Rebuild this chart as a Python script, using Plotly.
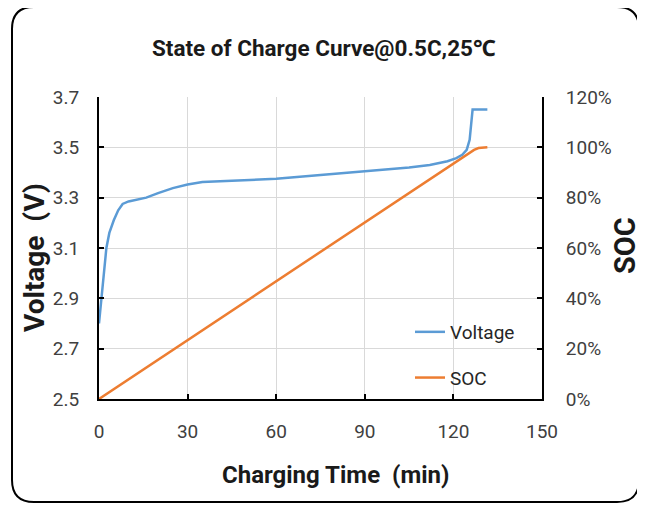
import plotly.graph_objects as go

# ---- data ----
time_v = [0, 0.5, 1, 1.5, 2.5, 3.5, 5, 6.5, 8, 10, 13, 16, 20, 25, 30, 35, 45,
          60, 75, 90, 105, 112, 118, 121, 123, 124.5, 125.5, 126, 126.5, 128, 131.5]
voltage = [2.80, 2.86, 2.92, 2.99, 3.10, 3.16, 3.21, 3.25, 3.275, 3.285, 3.293,
           3.30, 3.318, 3.338, 3.352, 3.362, 3.367, 3.375, 3.39, 3.405, 3.42,
           3.43, 3.445, 3.457, 3.47, 3.49, 3.53, 3.59, 3.65, 3.65, 3.65]

time_soc = [0, 30, 60, 90, 120, 125, 127, 128.5, 130, 131.5]
soc = [0, 0.234, 0.469, 0.703, 0.938, 0.977, 0.99, 0.997, 1.0, 1.0]

x_ticks = [0, 30, 60, 90, 120, 150]
v_ticks = [2.5, 2.7, 2.9, 3.1, 3.3, 3.5, 3.7]
soc_ticks = [0, 0.2, 0.4, 0.6, 0.8, 1.0, 1.2]

title_text = "State of Charge Curve@0.5C,25℃"
x_title = "Charging Time  (min)"
y_title = "Voltage  (V)"
y2_title = "SOC"

BLUE = "#5B9BD5"
ORANGE = "#ED7D31"
FONT = "Roboto, Noto Sans, sans-serif"
TICKC = "#404040"
DARK = "#1a1a1a"

W, H = 645, 507
OFF = 8                       # page body margin
L, R, T, B = 99, 542, 97, 399  # plot area in page pixels

fig = go.Figure()
fig.add_trace(go.Scatter(x=time_v, y=voltage, mode="lines", name="Voltage",
                         line=dict(color=BLUE, width=2.5), legendgroup="v"))
fig.add_trace(go.Scatter(x=time_soc, y=soc, mode="lines", name="SOC", yaxis="y2",
                         line=dict(color=ORANGE, width=2.5), legendgroup="s"))

def px(xp):
    return (xp - L) / (R - L)

def py(yp):
    return (B - yp) / (B - T)

# rounded border
x0, x1, y0, y1, rad = 12, 639, 7, 502, 22
path = (f"M {px(x0 + rad)} {py(y0)} L {px(x1 - rad)} {py(y0)} "
        f"Q {px(x1)} {py(y0)} {px(x1)} {py(y0 + rad)} "
        f"L {px(x1)} {py(y1 - rad)} Q {px(x1)} {py(y1)} {px(x1 - rad)} {py(y1)} "
        f"L {px(x0 + rad)} {py(y1)} Q {px(x0)} {py(y1)} {px(x0)} {py(y1 - rad)} "
        f"L {px(x0)} {py(y0 + rad)} Q {px(x0)} {py(y0)} {px(x0 + rad)} {py(y0)} Z")

fig.update_layout(
    width=W - OFF, height=H - OFF,
    margin=dict(l=L - OFF, r=W - R, t=T - OFF, b=H - B, pad=0),
    paper_bgcolor="white", plot_bgcolor="white",
    font=dict(family=FONT, color=TICKC, size=19),
    showlegend=True,
    shapes=[dict(type="path", path=path, xref="paper", yref="paper",
                 line=dict(color="black", width=2), layer="above")],
    annotations=[
        dict(text=f"<b>{title_text}</b>", x=px(324), y=py(48), xref="paper", yref="paper",
             showarrow=False, font=dict(family=FONT, size=22.5, color=DARK),
             xanchor="center", yanchor="middle"),
        dict(text=f"<b>{x_title}</b>", x=px(335), y=py(475), xref="paper", yref="paper",
             showarrow=False, font=dict(family=FONT, size=24, color=DARK),
             xanchor="center", yanchor="middle"),
        dict(text=f"<b>{y_title}</b>", x=px(35), y=py(258), xref="paper", yref="paper",
             showarrow=False, textangle=-90, font=dict(family=FONT, size=28, color=DARK),
             xanchor="center", yanchor="middle"),
        dict(text=f"<b>{y2_title}</b>", x=px(625), y=py(246), xref="paper", yref="paper",
             showarrow=False, textangle=-90, font=dict(family=FONT, size=29, color=DARK),
             xanchor="center", yanchor="middle"),
    ],
    xaxis=dict(range=[0, 150], tickvals=x_ticks, showgrid=True, gridcolor="#d9d9d9",
               gridwidth=1, showline=True, linecolor="black", linewidth=2,
               ticks="inside", ticklen=5, tickwidth=2, tickcolor="black",
               zeroline=False, tickfont=dict(size=19, color=TICKC), ticklabelstandoff=14),
    yaxis=dict(range=[2.5, 3.7], tickvals=v_ticks, tickformat=".1f", showgrid=True,
               gridcolor="#d9d9d9", gridwidth=1, showline=True, linecolor="black",
               linewidth=2, ticks="inside", ticklen=5, tickwidth=2, tickcolor="black",
               zeroline=False, tickfont=dict(size=19, color=TICKC), ticklabelstandoff=14),
    yaxis2=dict(range=[0, 1.2], tickvals=soc_ticks, tickformat=".0%", overlaying="y",
                side="right", showgrid=False, showline=True, linecolor="black",
                linewidth=2, ticks="inside", ticklen=5, tickwidth=2, tickcolor="black",
                zeroline=False, tickfont=dict(size=19, color=TICKC), ticklabelstandoff=18),
    legend=dict(x=px(410), y=py(313), xanchor="left", yanchor="top",
                bgcolor="rgba(0,0,0,0)", font=dict(size=19, color="#262626"),
                itemwidth=30, traceorder="grouped", tracegroupgap=18),
)

fig.write_html("out.html")
